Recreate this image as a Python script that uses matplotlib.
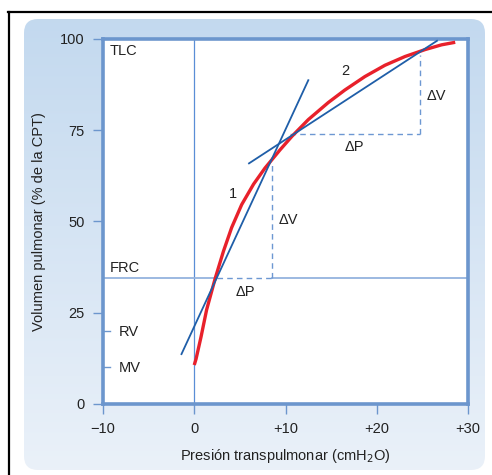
import numpy as np
import matplotlib
matplotlib.use("Agg")
import matplotlib.pyplot as plt
from matplotlib.patches import FancyBboxPatch
from matplotlib.lines import Line2D

plt.rcParams['font.family'] = ['Liberation Sans', 'DejaVu Sans']

# Red compliance curve (presion, volumen)
curve_p = [0.0, 0.2, 0.75, 1.35, 2.3, 3.2, 4.1, 5.2, 6.5, 7.75, 9.4,
           10.7, 12.5, 14.7, 16.5, 18.7, 20.9, 23.1, 25.3, 27.1, 28.6]
curve_v = [10.6, 12.3, 18.4, 25.7, 34.4, 41.8, 48.3, 54.6, 60.2, 64.6, 69.6,
           73.3, 77.9, 82.6, 86.0, 89.7, 92.8, 95.2, 97.1, 98.4, 99.1]

# Secant lines 1 and 2 (end points)
line1_p = [-1.4, 12.5]
line1_v = [13.6, 88.7]
line2_p = [6.0, 26.6]
line2_v = [65.9, 99.5]

frc = 34.5
x_ticks = [-10, 0, 10, 20, 30]
x_labels = ['\u221210', '0', '+10', '+20', '+30']
y_ticks = [0, 25, 50, 75, 100]

spine_col = '#6c96cd'
blue = '#1f5ea8'
red = '#e8212b'
light = '#94b3de'
dash_col = '#6d98d2'

fig = plt.figure(figsize=(4.92, 4.75), dpi=100)

# background panel with a vertical gradient and rounded corners
bg = fig.add_axes([0, 0, 1, 1], zorder=0)
bg.set_xlim(0, 492)
bg.set_ylim(475, 0)
bg.axis('off')
grad = np.linspace(0, 1, 256).reshape(-1, 1)
top = np.array([0.765, 0.851, 0.937])
bot = np.array([0.918, 0.945, 0.976])
img = top[None, None, :] * (1 - grad[:, :, None]) + bot[None, None, :] * grad[:, :, None]
im = bg.imshow(img, extent=[24, 485, 470, 19], aspect='auto')
panel = FancyBboxPatch((24, 19), 461, 451, boxstyle='round,pad=0,rounding_size=14',
                       transform=bg.transData, facecolor='none', edgecolor='none')
bg.add_patch(panel)
im.set_clip_path(panel)
# black frame lines (left and top)
bg.add_line(Line2D([8.7, 8.7], [12, 475], color='black', lw=1.6))
bg.add_line(Line2D([8, 492], [12.3, 12.3], color='black', lw=1.6))

ax = fig.add_axes([103 / 492, 1 - 403.7 / 475, 365 / 492, (403.7 - 39) / 475], zorder=1)
ax.set_facecolor('white')
ax.set_xlim(-10, 30)
ax.set_ylim(0, 100)

for s in ax.spines.values():
    s.set_color(spine_col)
    s.set_linewidth(2.6)

ax.set_xticks(x_ticks)
ax.set_xticklabels(x_labels)
ax.set_yticks(y_ticks)
ax.tick_params(axis='both', colors=spine_col, labelcolor='#222222', length=7, width=1,
               labelsize=10.5, pad=6)

# reference lines
ax.axvline(0, color='#5a8ed6', lw=0.9, zorder=1)
ax.plot([-10, 2.5], [frc, frc], color=light, lw=1.3, zorder=1)
ax.plot([8.5, 30], [frc, frc], color=light, lw=1.3, zorder=1)
ax.plot([2.5, 8.5], [frc, frc], color=dash_col, lw=1.0, ls=(0, (4, 3)), zorder=1)
ax.plot([8.5, 8.5], [frc, 66.0], color=dash_col, lw=1.0, ls=(0, (4, 3)), zorder=1)
ax.plot([10.5, 24.7], [74.0, 74.0], color=dash_col, lw=1.0, ls=(0, (4, 3)), zorder=1)
ax.plot([24.7, 24.7], [74.0, 95.6], color=dash_col, lw=1.0, ls=(0, (4, 3)), zorder=1)

# inner ticks for RV and MV
ax.plot([-10, -9.2], [20, 20], color=spine_col, lw=1, clip_on=False)
ax.plot([-10, -9.2], [10, 10], color=spine_col, lw=1, clip_on=False)

ax.plot(curve_p, curve_v, color=red, lw=2.4, solid_capstyle='butt',
        solid_joinstyle='round', zorder=3)
ax.plot(line1_p, line1_v, color=blue, lw=1.3, zorder=4)
ax.plot(line2_p, line2_v, color=blue, lw=1.3, zorder=4)

tkw = dict(fontsize=10.5, color='#222222')
ax.text(-9.3, 96.8, 'TLC', ha='left', va='center', **tkw)
ax.text(-9.3, 37.2, 'FRC', ha='left', va='center', **tkw)
ax.text(-8.3, 19.7, 'RV', ha='left', va='center', **tkw)
ax.text(-8.3, 9.7, 'MV', ha='left', va='center', **tkw)
ax.text(4.2, 57.5, '1', ha='center', va='center', **tkw)
ax.text(16.6, 91.2, '2', ha='center', va='center', **tkw)
ax.text(10.3, 50.5, '\u0394V', ha='center', va='center', **tkw)
ax.text(5.6, 30.5, '\u0394P', ha='center', va='center', **tkw)
ax.text(17.6, 70.3, '\u0394P', ha='center', va='center', **tkw)
ax.text(26.5, 84.4, '\u0394V', ha='center', va='center', **tkw)

ax.set_xlabel('Presión transpulmonar (cmH$_2$O)', fontsize=10.5, color='#222222', labelpad=8)
ax.set_ylabel('Volumen pulmonar (% de la CPT)', fontsize=10.5, color='#222222', labelpad=10)

fig.savefig('out.png', dpi=100)
